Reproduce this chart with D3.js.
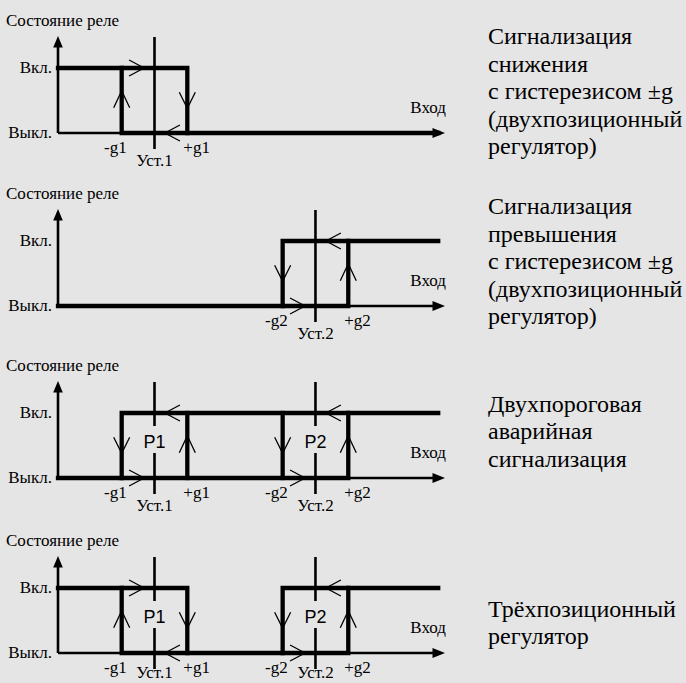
<!DOCTYPE html>
<html><head><meta charset="utf-8">
<script src="https://cdn.jsdelivr.net/npm/d3@7"></script>
<style>
html,body{margin:0;padding:0;background:#e5e5e5;} svg{display:block}
.sf{font-family:"Liberation Serif","Tinos","Times New Roman","DejaVu Serif",serif;}
.ss{font-family:"Liberation Sans","Arimo",Arial,sans-serif;}
</style>
</head><body><svg id="c" width="686" height="683"></svg>
<script>
// ---- data ----
const stateLabels = ["Выкл.", "Вкл."];
const axisTitleY = "Состояние реле";
const axisTitleX = "Вход";
const setpointLabels = ["Уст.1", "Уст.2"];
const setpointValues = [25, 66.7];
const thresholdLabels = ["-g1", "+g1", "-g2", "+g2"];
const thresholdValues = [16.5, 33.5, 58.2, 75.2];
const relayLabels = ["P1", "P2"];
const modeDescriptions = [
  ["Сигнализация", "снижения", "с гистерезисом ±g", "(двухпозиционный", "регулятор)"],
  ["Сигнализация", "превышения", "с гистерезисом ±g", "(двухпозиционный", "регулятор)"],
  ["Двухпороговая", "аварийная", "сигнализация"],
  ["Трёхпозиционный", "регулятор"]
];
const panelSetpoints = [[0], [1], [0, 1], [0, 1]];
const panelShowRelay = [false, false, true, true];
// relay output curves: [input, state]
const panelCurves = [
  [[[0,1],[33.5,1],[33.5,0]], [[16.5,1],[16.5,0],[98.5,0]]],
  [[[0,0],[75.2,0],[75.2,1]], [[58.2,0],[58.2,1],[98.5,1]]],
  [[[0,0],[75.2,0],[75.2,1]], [[16.5,0],[16.5,1],[98.5,1]], [[33.5,0],[33.5,1]], [[58.2,0],[58.2,1]]],
  [[[0,1],[33.5,1],[33.5,0]], [[16.5,1],[16.5,0],[75.2,0],[75.2,1]], [[58.2,0],[58.2,1],[98.5,1]]]
];
// direction chevrons: input, state at tip, direction
const panelChevrons = [
  [{x:22.3,s:1,d:">"},{x:27.7,s:0,d:"<"},{x:16.5,s:0.65,d:"^"},{x:33.5,s:0.38,d:"v"}],
  [{x:69.4,s:1,d:"<"},{x:64.0,s:0,d:">"},{x:58.2,s:0.38,d:"v"},{x:75.2,s:0.65,d:"^"}],
  [{x:27.7,s:1,d:"<"},{x:69.4,s:1,d:"<"},{x:22.3,s:0,d:">"},{x:64.0,s:0,d:">"},
   {x:16.5,s:0.38,d:"v"},{x:58.2,s:0.38,d:"v"},{x:33.5,s:0.65,d:"^"},{x:75.2,s:0.65,d:"^"}],
  [{x:22.3,s:1,d:">"},{x:69.4,s:1,d:"<"},{x:27.7,s:0,d:"<"},{x:64.0,s:0,d:">"},
   {x:16.5,s:0.65,d:"^"},{x:33.5,s:0.38,d:"v"},{x:58.2,s:0.38,d:"v"},{x:75.2,s:0.65,d:"^"}]
];

// ---- layout ----
const W = 686, H = 683, BG = "#e5e5e5";
const panelOn = [68, 241, 413, 588];
const stepH = 65;
const descBase = [44, 214, 411.7, 616.7];

const svg = d3.select("#c");
svg.append("rect").attr("width", W).attr("height", H).attr("fill", BG);

const x = d3.scaleLinear().domain([0, 100]).range([58, 444]);

panelOn.forEach((yOn, p) => {
  const y = d3.scaleLinear().domain([0, 1]).range([yOn + stepH, yOn]);
  const g = svg.append("g");
  const yOff = y(0);
  const line = d3.line().x(d => x(d[0])).y(d => y(d[1]));
  const txt = (cls) => g.append("text").attr("class", cls);

  // title
  txt("sf").attr("x", 6).attr("y", yOn - 42).attr("font-size", 17).text(axisTitleY);

  // axes
  g.append("line").attr("x1", x(0)).attr("x2", x(0)).attr("y1", yOff).attr("y2", yOn - 21)
    .attr("stroke", "#000").attr("stroke-width", 2.6);
  g.append("path").attr("d", `M${x(0)-4.8},${yOn-20.5} L${x(0)},${yOn-32} L${x(0)+4.8},${yOn-20.5} Z`).attr("fill", "#000");
  g.append("line").attr("x1", x(0)).attr("x2", x(100) - 10).attr("y1", yOff).attr("y2", yOff)
    .attr("stroke", "#000").attr("stroke-width", 2.6);
  g.append("path").attr("d", `M${x(100)-11.5},${yOff-5} L${x(100)+1},${yOff} L${x(100)-11.5},${yOff+5} Z`).attr("fill", "#000");

  // state labels
  stateLabels.forEach((t, i) => {
    txt("sf").attr("x", 52).attr("y", y(i) + 5).attr("text-anchor", "end").attr("font-size", 17).text(t);
  });
  txt("sf").attr("x", 446).attr("y", yOff - 20).attr("text-anchor", "end").attr("font-size", 17).text(axisTitleX);

  // setpoint lines
  panelSetpoints[p].forEach(si => {
    const sx = x(setpointValues[si]);
    g.append("line").attr("x1", sx).attr("x2", sx).attr("y1", yOn - 31).attr("y2", yOff + 16)
      .attr("stroke", "#000").attr("stroke-width", 2.6);
  });

  // curves
  panelCurves[p].forEach(c => {
    g.append("path").attr("d", line(c)).attr("fill", "none").attr("stroke", "#000")
      .attr("stroke-width", 4.3).attr("stroke-linejoin", "miter").attr("stroke-linecap", "square");
  });

  // chevrons
  panelChevrons[p].forEach(c => {
    const X = x(c.x), Y = y(c.s);
    let d;
    if (c.d === ">") d = `M${X-15},${Y-8} L${X},${Y} L${X-15},${Y+8}`;
    else if (c.d === "<") d = `M${X+15},${Y-8} L${X},${Y} L${X+15},${Y+8}`;
    else if (c.d === "^") d = `M${X-8},${Y+17} L${X},${Y} L${X+8},${Y+17}`;
    else d = `M${X-8},${Y-16} L${X},${Y} L${X+8},${Y-16}`;
    g.append("path").attr("d", d).attr("fill", "none").attr("stroke", "#000").attr("stroke-width", 1.3);
  });

  // relay labels
  if (panelShowRelay[p]) {
    panelSetpoints[p].forEach(si => {
      const sx = x(setpointValues[si]);
      g.append("rect").attr("x", sx - 11).attr("y", yOn + 13).attr("width", 22).attr("height", 27).attr("fill", BG);
      txt("ss").attr("x", sx).attr("y", yOn + 35).attr("text-anchor", "middle").attr("font-size", 18).text(relayLabels[si]);
    });
  }

  // threshold & setpoint labels
  panelSetpoints[p].forEach(si => {
    const lo = 2 * si, hi = 2 * si + 1;
    txt("sf").attr("x", x(thresholdValues[lo]) + 5).attr("y", yOff + 20).attr("text-anchor", "end")
      .attr("font-size", 17).text(thresholdLabels[lo]);
    txt("sf").attr("x", x(thresholdValues[hi]) - 4).attr("y", yOff + 20).attr("text-anchor", "start")
      .attr("font-size", 17).text(thresholdLabels[hi]);
    txt("sf").attr("x", x(setpointValues[si])).attr("y", Math.min(yOff + 33, H - 5)).attr("text-anchor", "middle")
      .attr("font-size", 17).text(setpointLabels[si]);
  });

  // description
  const tt = svg.append("text").attr("class", "sf").attr("font-size", 24);
  modeDescriptions[p].forEach((ln, i) => {
    tt.append("tspan").attr("x", 488).attr("y", descBase[p] + i * 27.5).text(ln);
  });
});
</script></body></html>
